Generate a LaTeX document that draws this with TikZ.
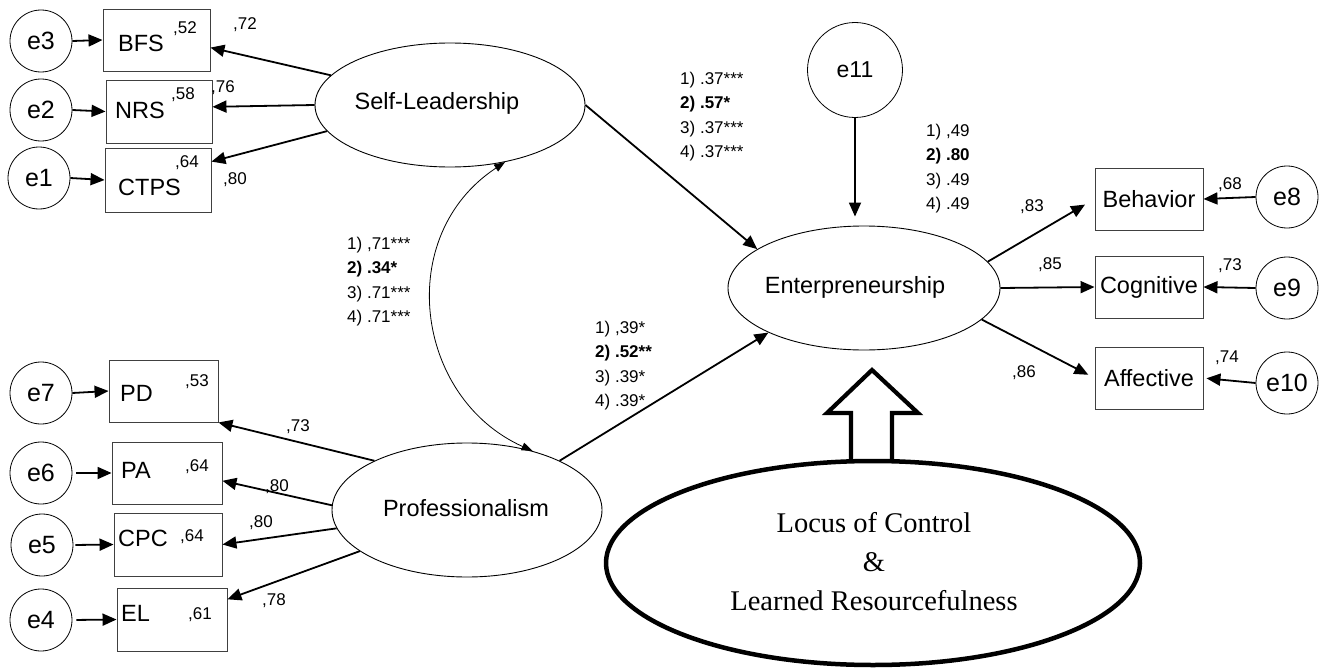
\documentclass[tikz,border=0pt]{standalone}
\usepackage{fontspec}
\setmainfont{Liberation Sans}
\newfontfamily\serifLR{Liberation Serif}
\usetikzlibrary{arrows.meta,shapes.geometric}
\begin{document}
\begin{tikzpicture}[x=1pt,y=-1pt,
  err/.style={circle, draw, line width=0.8pt, minimum size=62pt, inner sep=0pt, font=\fontsize{25}{25}\selectfont},
  obs/.style={rectangle, draw=black!75, line width=0.9pt, inner sep=0pt, font=\fontsize{23.5}{23.5}\selectfont},
  latent/.style={ellipse, draw, line width=0.9pt, inner sep=0pt},
  lbl/.style={inner sep=0pt, font=\fontsize{23.5}{23.5}\selectfont},
  num/.style={inner sep=0pt, font=\fontsize{17}{17}\selectfont},
  grp/.style={inner sep=0pt, align=left, anchor=north west, font=\fontsize{17}{24.5}\selectfont},
  arr/.style={-{Triangle[length=14pt,width=12pt]}, line width=1.8pt},
  cov/.style={{Triangle[length=11pt,width=8pt]}-{Triangle[length=11pt,width=8pt]}, line width=0.8pt}
]
\useasboundingbox (0,0) rectangle (1326,669);
\fill[white] (0,0) rectangle (1326,669);

% ---------- Self-Leadership block ----------
\node[err] (e3) at (41,41) {e3};
\node[err] (e2) at (41,110) {e2};
\node[err] (e1) at (39,178) {e1};
\node[obs, minimum width=107pt, minimum height=62pt] (BFS) at (156.5,40) {};
\node[obs, minimum width=106pt, minimum height=63pt] (NRS) at (159,111.5) {};
\node[obs, minimum width=106pt, minimum height=64pt] (CTPS) at (158,180) {};
\node[lbl, anchor=west] (BFSt) at (118,43) {BFS};
\node[lbl, anchor=west] (NRSt) at (115,110) {NRS};
\node[lbl, anchor=west] (CTPSt) at (118,187) {CTPS};
\node[num] (r52) at (185,29) {,52};
\node[num] (r58) at (183,95) {,58};
\node[num] (r64a) at (187,163) {,64};
\node[num] (l72) at (245,25) {,72};
\node[num] (l76) at (223,88) {,76};
\node[num] (l80a) at (235,180) {,80};

\node[latent, minimum width=270pt, minimum height=124pt] (SL) at (450,105) {};
\node[lbl] (SLt) at (437,103) {Self-Leadership};

\draw[arr] (e3.east) -- (BFS.west);
\draw[arr] (e2.east) -- (NRS.west);
\draw[arr] (e1.east) -- (CTPS.west);
\draw[arr] (SL.166) -- (BFS.-8);
\draw[arr] (SL.west) -- (NRS.5);
\draw[arr] (SL.192) -- (CTPS.19);

% ---------- Professionalism block ----------
\node[err] (e7) at (41,393) {e7};
\node[err] (e6) at (41,473) {e6};
\node[err] (e5) at (42,545) {e5};
\node[err] (e4) at (41,620) {e4};
\node[obs, minimum width=109pt, minimum height=62pt] (PD) at (163.5,391) {};
\node[obs, minimum width=110pt, minimum height=62pt] (PA) at (167,473) {};
\node[obs, minimum width=108pt, minimum height=63pt] (CPC) at (168,544.5) {};
\node[obs, minimum width=110pt, minimum height=63pt] (EL) at (172,619.5) {};
\node[lbl, anchor=west] (PDt) at (120,393) {PD};
\node[lbl, anchor=west] (PAt) at (121,470) {PA};
\node[lbl, anchor=west] (CPCt) at (118,538) {CPC};
\node[lbl, anchor=west] (ELt) at (121,613) {EL};
\node[num] (r53) at (197,382) {,53};
\node[num] (r64b) at (197,467) {,64};
\node[num] (r64c) at (192,537) {,64};
\node[num] (r61) at (200,615) {,61};
\node[num] (l73) at (298,427) {,73};
\node[num] (l80b) at (277,487) {,80};
\node[num] (l80c) at (261,523) {,80};
\node[num] (l78) at (274,601) {,78};

\node[latent, minimum width=270pt, minimum height=134pt] (PR) at (467,510) {};
\node[lbl] (PRt) at (466,508) {Professionalism};

\draw[arr] (e7.east) -- (PD.west);
\draw[arr, shorten <=4pt] (e6.east) -- (PA.west);
\draw[arr, shorten <=2pt] (e5.east) -- (CPC.west);
\draw[arr, shorten <=4pt] (e4.east) -- (EL.west);
\draw[arr] (PR.152) -- (PD.south east);
\draw[arr] (PR.178) -- (PA.-8);
\draw[arr] (PR.188) -- (CPC.east);
\draw[arr] (PR.201) -- (EL.20);

% ---------- correlation ----------
\draw[cov] (SL.-46) .. controls (393.6,235.4) and (414.4,397.8) .. (PR.42);
\node[grp] (g71) at (347,236.5) {1) ,71***\\\textbf{2) .34*}\\3) .71***\\4) .71***};

% ---------- Enterpreneurship block ----------
\node[latent, minimum width=272pt, minimum height=124pt] (EN) at (864,288) {};
\node[lbl] (ENt) at (855,287) {Enterpreneurship};
\node[err, minimum size=95pt, font=\fontsize{23}{23}\selectfont] (e11) at (855,70) {e11};
\draw[arr, shorten >=9pt] (e11.south) -- (e11.south |- EN.north);

\draw[arr] (SL.east) -- (EN.160);
\draw[arr] (PR.28) -- (EN.205);
\node[grp] (g37) at (680,71.5) {1) .37***\\\textbf{2) .57*}\\3) .37***\\4) .37***};
\node[grp] (g39) at (595,320.5) {1) ,39*\\\textbf{2) .52**}\\3) .39*\\4) .39*};
\node[grp] (g49) at (926,123.5) {1) ,49\\\textbf{2) .80}\\3) .49\\4) .49};

\node[obs, minimum width=108pt, minimum height=62pt] (BEH) at (1149,199) {Behavior};
\node[obs, minimum width=108pt, minimum height=62pt] (COG) at (1149,287) {Cognitive};
\node[obs, minimum width=108pt, minimum height=62pt] (AFF) at (1149,378) {Affective};
\node[err] (e8) at (1287,197) {e8};
\node[err] (e9) at (1287,288) {e9};
\node[err] (e10) at (1287,383) {e10};

\draw[arr, shorten >=11pt] (EN.12) -- (BEH.west);
\draw[arr] (EN.east) -- (COG.west);
\draw[arr, shorten >=7pt] (EN.-15) -- (AFF.west);
\draw[arr] (e8.west) -- (BEH.east);
\draw[arr] (e9.west) -- (COG.east);
\draw[arr, shorten >=3pt] (e10.west) -- (AFF.east);
\node[num] (l83) at (1032,207) {,83};
\node[num] (l85) at (1050,265) {,85};
\node[num] (l86) at (1024,373) {,86};
\node[num] (r68) at (1230,185) {,68};
\node[num] (r73) at (1230,266) {,73};
\node[num] (r74) at (1227,358) {,74};

% ---------- moderator ----------
\draw[line width=4.2pt, line join=miter, fill=white] (851,461) -- (851,413) -- (827,413) -- (872,370) -- (918,413) -- (892,413) -- (892,461);
\node[ellipse, draw, line width=4.5pt, fill=white, minimum width=534pt, minimum height=204pt, inner sep=0pt] (LOC) at (873,563) {};
\node[inner sep=0pt, align=center, font=\serifLR\fontsize{28.5}{39}\selectfont] (LOCt) at (874,562) {Locus of Control\\\&\\Learned Resourcefulness};
\end{tikzpicture}
\end{document}
